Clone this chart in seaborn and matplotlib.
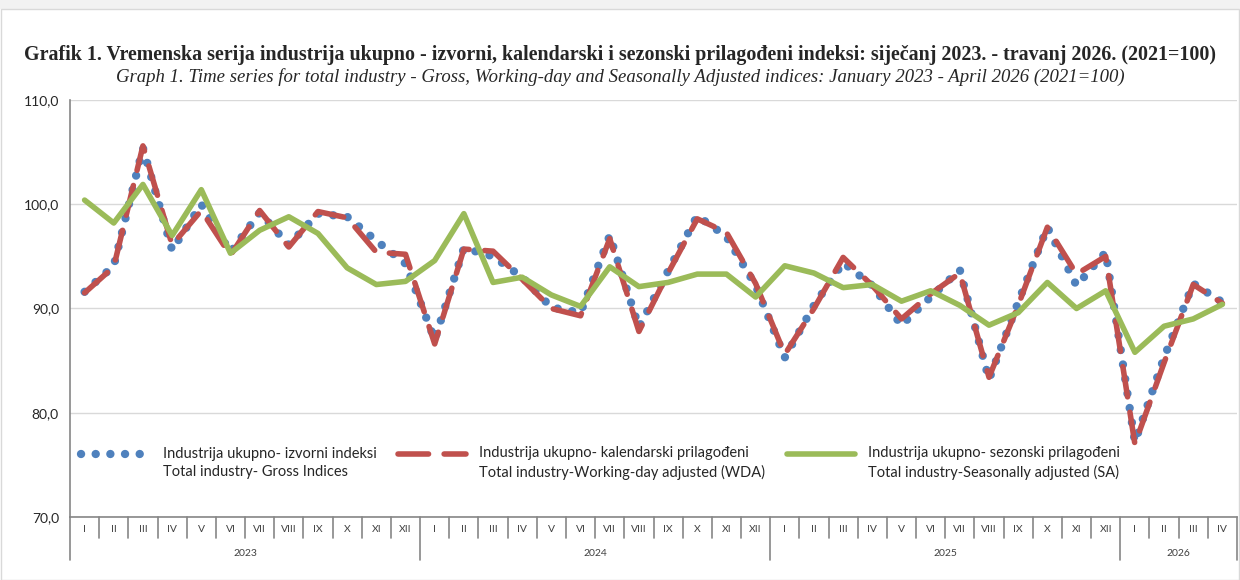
import numpy as np
import pandas as pd
import matplotlib
matplotlib.use("Agg")
import matplotlib.pyplot as plt
import seaborn as sns
from matplotlib.patches import Rectangle
from matplotlib.ticker import FuncFormatter
from matplotlib.legend_handler import HandlerLine2D

# months / years of the category axis
roman = ["I", "II", "III", "IV", "V", "VI", "VII", "VIII", "IX", "X", "XI", "XII"]
years = ["2023", "2024", "2025", "2026"]
months_per_year = [12, 12, 12, 4]

# index values (2021=100), Jan 2023 - Apr 2026
gross = [91.6, 94.1, 105.4, 95.6, 100.0, 95.4, 99.2, 96.1, 99.1, 98.8, 96.5, 94.3,
         87.0, 95.8, 95.0, 93.0, 90.1, 89.6, 97.0, 88.2, 93.6, 98.9, 96.9, 92.2,
         85.3, 90.3, 94.4, 92.2, 88.4, 91.1, 93.7, 83.2, 90.6, 97.8, 92.2, 95.4,
         77.2, 85.3, 92.4, 90.6]
wda = [91.5, 94.0, 105.6, 96.1, 99.4, 95.1, 99.4, 95.9, 99.3, 98.7, 95.4, 95.2,
       86.6, 95.7, 95.5, 92.8, 90.0, 89.3, 96.7, 87.8, 93.4, 98.6, 97.3, 92.4,
       85.6, 90.0, 94.9, 92.2, 89.0, 91.4, 93.4, 83.4, 90.3, 97.8, 93.3, 95.0,
       77.0, 84.8, 92.3, 90.5]
sa = [100.4, 98.2, 101.9, 97.0, 101.4, 95.3, 97.5, 98.8, 97.2, 93.9, 92.3, 92.6,
      94.6, 99.1, 92.5, 93.0, 91.3, 90.2, 94.0, 92.1, 92.5, 93.3, 93.3, 91.1,
      94.1, 93.4, 92.0, 92.3, 90.7, 91.7, 90.3, 88.4, 89.6, 92.5, 90.0, 91.7,
      85.8, 88.3, 89.0, 90.4]

labels = [
    "Industrija ukupno- izvorni indeksi\nTotal industry- Gross Indices",
    "Industrija ukupno- kalendarski prilagođeni\nTotal industry-Working-day adjusted (WDA)",
    "Industrija ukupno- sezonski prilagođeni\nTotal industry-Seasonally adjusted (SA)",
]

month_labels = [roman[m] for n in months_per_year for m in range(n)]
df = pd.DataFrame({"idx": np.arange(len(month_labels)), "gross": gross, "wda": wda, "sa": sa})


class UpperHandler(HandlerLine2D):
    # put the legend line next to the first text line, like Excel does
    def create_artists(self, legend, orig_handle, xdescent, ydescent, width, height, fontsize, trans):
        return super().create_artists(legend, orig_handle, xdescent, ydescent - 1.35 * fontsize,
                                      width, height, fontsize, trans)


sns.set_theme(style="white")
plt.rcParams["font.family"] = ["Lato", "DejaVu Sans"]

fig = plt.figure(figsize=(12.4, 5.8), dpi=100)
W, H = 1240, 580
ax = fig.add_axes([70 / W, (H - 517) / H, 1167 / W, 417 / H])

sns.lineplot(data=df, x="idx", y="gross", ax=ax, color="#4F81BD", lw=6.0,
             linestyle=(0, (0.01, 1.75)), label=labels[0])
sns.lineplot(data=df, x="idx", y="wda", ax=ax, color="#C0504D", lw=4.0,
             linestyle=(0, (5.5, 2.8)), label=labels[1])
sns.lineplot(data=df, x="idx", y="sa", ax=ax, color="#9BBB59", lw=4.0, label=labels[2])
lines = ax.get_lines()[:3]
lines[0].set_dash_capstyle("round")
lines[1].set_dash_capstyle("round")
lines[2].set_solid_capstyle("round")

ax.set_xlim(-0.5, len(month_labels) - 0.5)
ax.set_ylim(70, 110)
ax.set_yticks(np.arange(70, 111, 10))
ax.yaxis.set_major_formatter(FuncFormatter(lambda v, p: f"{v:.1f}".replace(".", ",")))
ax.tick_params(axis="y", length=5, width=1, color="#868686", labelsize=10, pad=3)
ax.set_xticks([])
ax.set_xlabel("")
ax.set_ylabel("")
ax.yaxis.grid(True, color="#d9d9d9", lw=1)
for s in ["top", "right"]:
    ax.spines[s].set_visible(False)
for s in ["left", "bottom"]:
    ax.spines[s].set_color("#868686")
    ax.spines[s].set_linewidth(1.2)

# two-level category axis: months and years
tr = ax.get_xaxis_transform()
for i, lab in enumerate(month_labels):
    ax.text(i, -0.031, lab, transform=tr, ha="center", va="center", fontsize=7.5, color="#404040")
start = 0
for y, n in zip(years, months_per_year):
    ax.text(start + (n - 1) / 2, -0.087, y, transform=tr, ha="center", va="center",
            fontsize=7.5, color="#404040")
    start += n
year_starts = np.cumsum([0] + months_per_year)
for b in range(len(month_labels) + 1):
    low = -0.103 if b in year_starts else -0.050
    ax.plot([b - 0.5, b - 0.5], [0, low], transform=tr, color="#868686", lw=1.2, clip_on=False)

leg = ax.legend(lines, labels, ncol=3, loc="upper left", bbox_to_anchor=(0.0095, 0.17),
                frameon=False, fontsize=10.5, handlelength=4.7, handletextpad=0.9,
                columnspacing=1.45, borderpad=0, borderaxespad=0,
                handler_map={l: UpperHandler() for l in lines})
for t in leg.get_texts():
    t.set_linespacing(1.4)

fig.text(0.5, 1 - 55 / H,
         "Grafik 1. Vremenska serija industrija ukupno - izvorni, kalendarski i sezonski "
         "prilagođeni indeksi: siječanj 2023. - travanj 2026. (2021=100)",
         ha="center", va="center", fontsize=14.45, fontweight="bold", family="Liberation Serif")
fig.text(0.5, 1 - 77 / H,
         "Graph 1. Time series for total industry - Gross, Working-day and Seasonally Adjusted "
         "indices: January 2023 - April 2026 (2021=100)",
         ha="center", va="center", fontsize=13.5, style="italic", family="Liberation Serif")

# light frame of the chart area
fig.patches.append(Rectangle((0, 1 - 8 / H), 1, 8 / H, transform=fig.transFigure,
                             color="#f2f2f2", zorder=0))
fig.patches.append(Rectangle((1 / W, 0.5 / H), 1 - 2 / W, 1 - 9 / H, transform=fig.transFigure,
                             fill=False, edgecolor="#d9d9d9", lw=1, zorder=0))

fig.savefig("out.png", dpi=100)
